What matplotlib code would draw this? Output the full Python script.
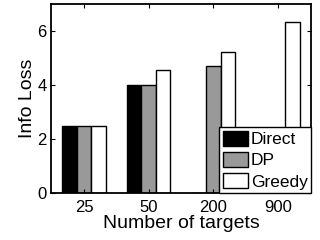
import matplotlib
matplotlib.use("Agg")
import matplotlib.pyplot as plt
import numpy as np

categories = ["25", "50", "200", "900"]
direct = [2.5, 4.0, 0.0, 0.0]
dp = [2.5, 4.0, 4.7, 0.0]
greedy = [2.5, 4.55, 5.22, 6.33]

plt.rcParams['font.family'] = ['Liberation Sans', 'DejaVu Sans']

fig = plt.figure(figsize=(3.2, 2.4), dpi=100)
ax = fig.add_axes([51/320, 1 - 193/240, (311-51)/320, (193-4)/240])

x = np.arange(1, len(categories) + 1)
w = 0.224
ax.bar(x - w, direct, w, color='black', edgecolor='black', linewidth=1.0, label='Direct')
ax.bar(x, dp, w, color='#999999', edgecolor='black', linewidth=1.0, label='DP')
ax.bar(x + w, greedy, w, color='white', edgecolor='black', linewidth=1.0, label='Greedy')

ax.set_xlim(0.49, 4.51)
ax.set_ylim(0, 7)
ax.set_xticks(x)
ax.set_xticklabels(categories)
ax.set_yticks([0, 2, 4, 6])
ax.tick_params(direction='in', top=True, right=True, labelsize=12, length=3, width=0.8)
ax.tick_params(axis='x', pad=5)
ax.tick_params(axis='y', pad=3)
for s in ax.spines.values():
    s.set_linewidth(1.3)

ax.set_xlabel("Number of targets", fontsize=14, labelpad=0)
ax.set_ylabel("Info Loss", fontsize=14, labelpad=1)

leg = ax.legend(loc='lower right', borderaxespad=0, fontsize=12.5, frameon=True,
                fancybox=False, edgecolor='black', framealpha=1,
                handlelength=1.45, handleheight=1.0, handletextpad=0.15,
                labelspacing=0.25, borderpad=0.2)
leg.get_frame().set_linewidth(1.0)

fig.savefig("out.png", dpi=100)
